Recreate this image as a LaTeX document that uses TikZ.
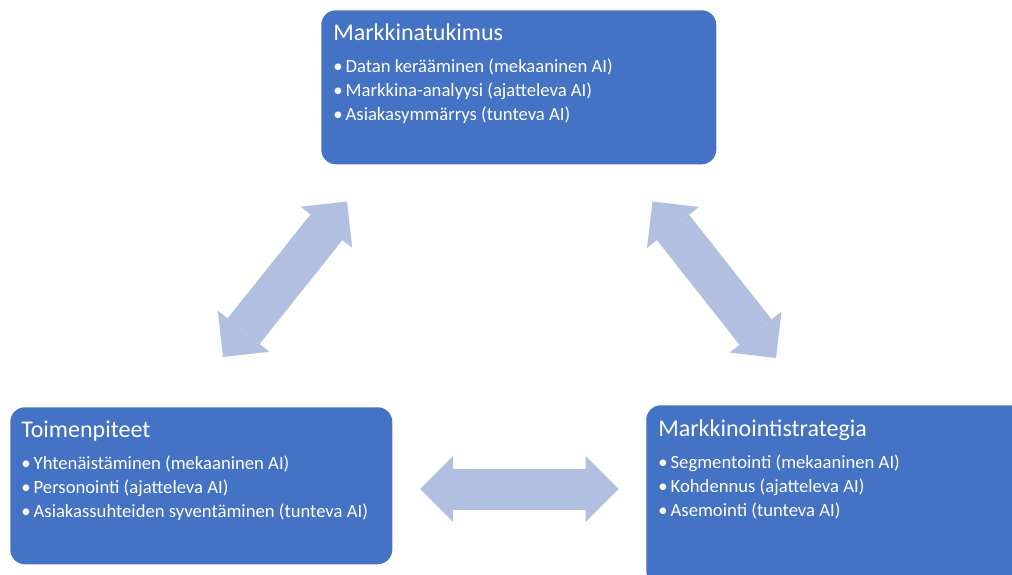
\documentclass[tikz,border=0pt]{standalone}
\usepackage{fontspec}
\setmainfont{Carlito}
\usepackage{xcolor}
\usepackage{tikz}
\usetikzlibrary{arrows.meta,positioning,calc}
\definecolor{boxblue}{HTML}{4472C4}
\definecolor{arrowblue}{HTML}{B1BFE0}

\begin{document}
\begin{tikzpicture}
            [x=0.75pt,y=-0.75pt,
            box/.style={fill=boxblue,rounded corners=11pt,inner sep=0pt,anchor=north west},
            txt/.style={text=white,align=left,inner sep=0pt,anchor=base west,font=\fontsize{14}{18}\selectfont},
            bigarrow/.style={draw=arrowblue,line width=30.75pt,
              {Triangle[width=49.5pt,length=24.75pt,line width=0pt]}-{Triangle[width=49.5pt,length=24.75pt,line width=0pt]}}]
            \useasboundingbox (0,0) rectangle (1012,574);
            \clip (0,0) rectangle (1012,574);
            \node[box,minimum width=296.25pt,minimum height=115.5pt] (mr) at (321,10) {};
            \node[box,minimum width=286.5pt,minimum height=117.75pt] (tp) at (10,407) {};
            \node[box,minimum width=300pt,minimum height=135pt] (ms) at (646,405) {};
            \node[txt] (mr text) at ($(mr.north west)+(12,110.5)$) {{\fontsize{18}{22}\selectfont Markkinatukimus}\\[6pt]
              •\,Datan kerääminen (mekaaninen AI)\\ •\,Markkina-analyysi (ajatteleva AI)\\ •\,Asiakasymmärrys (tunteva AI)};
            \node[txt] (tp text) at ($(tp.north west)+(11,110.5)$) {{\fontsize{18}{22}\selectfont Toimenpiteet}\\[6pt]
              •\,Yhtenäistäminen (mekaaninen AI)\\ •\,Personointi (ajatteleva AI)\\ •\,Asiakassuhteiden syventäminen (tunteva AI)};
            \node[txt] (ms text) at ($(ms.north west)+(12,111)$) {{\fontsize{18}{22}\selectfont Markkinointistrategia}\\[6pt]
              •\,Segmentointi (mekaaninen AI)\\ •\,Kohdennus (ajatteleva AI)\\ •\,Asemointi (tunteva AI)};
            \coordinate (a1) at (223,357);
            \coordinate (a2) at (347,201.5);
            \coordinate (b1) at (652.5,201.5);
            \coordinate (b2) at (776,358);
            \coordinate (c1) at (420,489);
            \coordinate (c2) at (618.5,489);
            \draw[bigarrow] (a1) -- (a2);
            \draw[bigarrow] (b1) -- (b2);
            \draw[bigarrow] (c1) -- (c2);
            \end{tikzpicture}
\end{document}
